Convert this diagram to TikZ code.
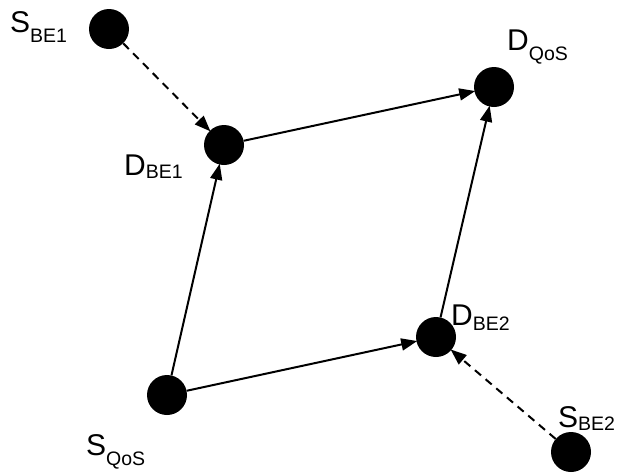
\documentclass[tikz,border=0pt]{standalone}
\usepackage{fontspec}
\setmainfont{Liberation Sans}
\usetikzlibrary{arrows.meta}
\newcommand{\nlabel}[3]{\fontsize{30}{30}\selectfont #1\raisebox{-#3pt}{\fontsize{19.5}{19.5}\selectfont #2}}
\tikzset{
  vertex/.style={circle,fill=black,inner sep=0pt,minimum size=40pt},
  link/.style={line width=2pt,-{Triangle[length=16pt,width=12pt]},shorten >=-1pt},
  dlink/.style={link,dash pattern=on 8pt off 6pt},
  tag/.style={anchor=base west,inner sep=0pt}
}
\begin{document}
\begin{tikzpicture}[x=1pt,y=-1pt]
  \useasboundingbox (0,0) rectangle (632,475);
  % vertices
  \node[vertex] (sbe1) at (109,29) {};
  \node[vertex] (dbe1) at (224,145) {};
  \node[vertex] (dqos) at (494,87) {};
  \node[vertex] (dbe2) at (436,337) {};
  \node[vertex] (sqos) at (167,395) {};
  \node[vertex] (sbe2) at (571,452) {};
  % labels
  \node[tag] (lsbe1) at (10,32) {\nlabel{S}{BE1}{10}};
  \node[tag] (ldbe1) at (124,175) {\nlabel{D}{BE1}{3}};
  \node[tag] (ldqos) at (507,50) {\nlabel{D}{QoS}{10}};
  \node[tag] (ldbe2) at (451,325) {\nlabel{D}{BE2}{5}};
  \node[tag] (lsbe2) at (558,427) {\nlabel{S}{BE2}{3}};
  \node[tag] (lsqos) at (86,455) {\nlabel{S}{QoS}{10}};
  % connections
  \draw[dlink] (sbe1) -- (dbe1);
  \draw[link] (dbe1) -- (dqos);
  \draw[link] (sqos) -- (dbe1);
  \draw[link] (sqos) -- (dbe2);
  \draw[link] (dbe2) -- (dqos);
  \draw[dlink] (sbe2) -- (dbe2);
\end{tikzpicture}
\end{document}
